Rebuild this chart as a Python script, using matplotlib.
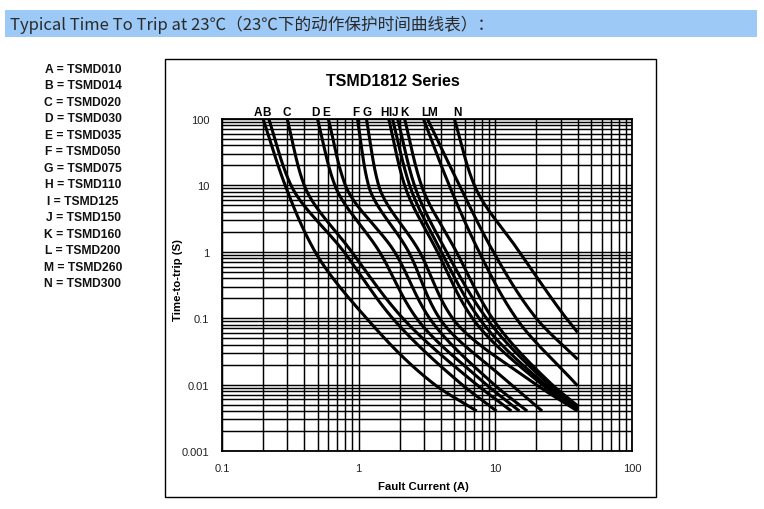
import numpy as np
import matplotlib
matplotlib.use("Agg")
import matplotlib.pyplot as plt
from matplotlib.patches import Rectangle

# ---------------- data ----------------
labels = ["A", "B", "C", "D", "E", "F", "G", "H", "I", "J", "K", "L", "M", "N"]
models = ["TSMD010", "TSMD014", "TSMD020", "TSMD030", "TSMD035", "TSMD050", "TSMD075",
          "TSMD110", "TSMD125", "TSMD150", "TSMD160", "TSMD200", "TSMD260", "TSMD300"]

# fault current (A) read at each time point (s) of each curve
curve_A_I = [0.20, 0.29, 0.48, 1.14, 3.6, 7.3]
curve_A_t = [100, 10, 1, 0.1, 0.01, 0.004]
curve_B_I = [0.22, 0.32, 0.78, 1.77, 5.7, 10.2]
curve_B_t = [100, 10, 1, 0.1, 0.01, 0.004]
curve_C_I = [0.30, 0.40, 0.89, 2.1, 7.3, 13.1]
curve_C_t = [100, 10, 1, 0.1, 0.01, 0.004]
curve_D_I = [0.50, 0.67, 1.42, 2.65, 8.6, 15.0]
curve_D_t = [100, 10, 1, 0.1, 0.01, 0.004]
curve_E_I = [0.60, 0.80, 1.83, 3.3, 9.8, 17.1]
curve_E_t = [100, 10, 1, 0.1, 0.01, 0.004]
curve_F_I = [0.98, 1.18, 2.32, 3.9, 13.1, 22.0]
curve_F_t = [100, 10, 1, 0.1, 0.01, 0.004]
curve_G_I = [1.14, 1.40, 2.79, 4.86, 19.9, 40.0]
curve_G_t = [100, 10, 1, 0.1, 0.01, 0.004]
curve_H_I = [1.66, 2.17, 3.77, 6.8, 22.0, 40.0]
curve_H_t = [100, 10, 1, 0.1, 0.01, 0.0042]
curve_I_I = [1.77, 2.36, 4.03, 7.6, 23.2, 40.0]
curve_I_t = [100, 10, 1, 0.1, 0.01, 0.0044]
curve_J_I = [1.93, 2.56, 4.39, 8.6, 24.8, 40.0]
curve_J_t = [100, 10, 1, 0.1, 0.01, 0.0046]
curve_K_I = [2.17, 2.88, 5.19, 9.5, 26.0, 40.0]
curve_K_t = [100, 10, 1, 0.1, 0.01, 0.0048]
curve_L_I = [2.98, 4.6, 7.6, 14.2, 40.0]
curve_L_t = [100, 10, 1, 0.1, 0.0096]
curve_M_I = [3.19, 5.46, 9.67, 19.9, 40.0]
curve_M_t = [100, 10, 1, 0.1, 0.024]
curve_N_I = [5.02, 7.03, 15.0, 33.0, 40.0]
curve_N_t = [100, 10, 1, 0.1, 0.061]

curves_I = [curve_A_I, curve_B_I, curve_C_I, curve_D_I, curve_E_I, curve_F_I, curve_G_I,
            curve_H_I, curve_I_I, curve_J_I, curve_K_I, curve_L_I, curve_M_I, curve_N_I]
curves_t = [curve_A_t, curve_B_t, curve_C_t, curve_D_t, curve_E_t, curve_F_t, curve_G_t,
            curve_H_t, curve_I_t, curve_J_t, curve_K_t, curve_L_t, curve_M_t, curve_N_t]

# top letter label positions (current at top edge)
label_x = [0.184, 0.212, 0.297, 0.485, 0.581, 0.951, 1.15, 1.535, 1.698, 1.847, 2.17, 3.03, 3.45, 5.31]

x_ticks = [0.1, 1, 10, 100]
x_ticklabels = ["0.1", "1", "10", "100"]
y_ticks = [0.001, 0.01, 0.1, 1, 10, 100]
y_ticklabels = ["0.001", "0.01", "0.1", "1", "10", "100"]


def pchip(x, y, xn):
    x = np.asarray(x, float); y = np.asarray(y, float)
    h = np.diff(x); d = np.diff(y) / h
    n = len(x); m = np.zeros(n)
    for k in range(1, n - 1):
        if d[k - 1] * d[k] > 0:
            w1 = 2 * h[k] + h[k - 1]; w2 = h[k] + 2 * h[k - 1]
            m[k] = (w1 + w2) / (w1 / d[k - 1] + w2 / d[k])
    m[0] = d[0]; m[-1] = d[-1]
    out = np.empty_like(xn)
    for i, v in enumerate(xn):
        k = min(max(np.searchsorted(x, v) - 1, 0), n - 2)
        t = (v - x[k]) / h[k]
        h00 = 2 * t**3 - 3 * t**2 + 1; h10 = t**3 - 2 * t**2 + t
        h01 = -2 * t**3 + 3 * t**2; h11 = t**3 - t**2
        out[i] = h00 * y[k] + h10 * h[k] * m[k] + h01 * y[k + 1] + h11 * h[k] * m[k + 1]
    return out


W, H = 764, 510
fig = plt.figure(figsize=(W / 100, H / 100), dpi=100)

# banner
fig.patches.append(Rectangle((5 / W, 1 - 38 / H), 752 / W, 27 / H, transform=fig.transFigure,
                             facecolor="#9dc9f6", edgecolor="none", zorder=0))
fig.text(10 / W, 1 - 24.5 / H, "Typical Time To Trip at 23℃（23℃下的动作保护时间曲线表）：",
         family=["Noto Sans CJK SC", "DejaVu Sans"], fontsize=12, va="center", ha="left",
         color="#2a2a2a")

# outer frame
fig.patches.append(Rectangle((165 / W, 1 - 498 / H), 491 / W, 438 / H, transform=fig.transFigure,
                             facecolor="none", edgecolor="black", lw=1.0))

# legend block
for k, (lab, mod) in enumerate(zip(labels, models)):
    y = 70 + k * 16.46
    fig.text(83 / W, 1 - y / H, f"{lab} = {mod}", family="Liberation Sans", weight="bold",
             fontsize=8.7, ha="center", va="center", color="#111111")

ax = fig.add_axes([222 / W, 1 - 452 / H, 410 / W, 332 / H])
ax.set_xscale("log"); ax.set_yscale("log")
ax.set_xlim(0.1, 100); ax.set_ylim(0.001, 100)
ax.grid(True, which="both", color="black", lw=1.05)
ax.set_axisbelow(True)
for s in ax.spines.values():
    s.set_linewidth(1.3)
ax.set_xticks(x_ticks); ax.set_xticklabels(x_ticklabels)
ax.set_yticks(y_ticks); ax.set_yticklabels(y_ticklabels)
ax.tick_params(which="both", length=0, labelsize=8, colors="#222222")
ax.tick_params(axis="x", pad=9)
ax.tick_params(axis="y", pad=9)
for lab in ax.get_xticklabels() + ax.get_yticklabels():
    lab.set_family("Liberation Sans")
ax.set_xlabel("Fault Current (A)", family="Liberation Sans", weight="bold", fontsize=8.2)
ax.xaxis.set_label_coords((423 - 222) / 410, -(487 - 452) / 332)
ax.xaxis.label.set_va("center")
ax.set_ylabel("Time-to-trip (S)", family="Liberation Sans", weight="bold", fontsize=8.2)
ax.yaxis.set_label_coords((178 - 222) / 410, (452 - 280) / 332)
ax.yaxis.label.set_va("center")

for I, t in zip(curves_I, curves_t):
    lt = np.log10(t)[::-1]; lI = np.log10(I)[::-1]
    yy = np.linspace(lt[0], lt[-1], 200)
    xx = pchip(lt, lI, yy)
    ax.plot(10**xx, 10**yy, color="black", lw=2.2, solid_capstyle="butt", clip_on=True, zorder=3)

for lab, xv in zip(labels, label_x):
    ax.text(xv, (452 - 113) / 332, lab, transform=ax.get_xaxis_transform(), ha="center",
            va="center", family="Liberation Sans", weight="bold", fontsize=8.5)

fig.text(393 / W, 1 - 82 / H, "TSMD1812 Series", family="Liberation Sans", weight="bold",
         fontsize=11.5, ha="center", va="center")

fig.savefig("out.png", dpi=100)
